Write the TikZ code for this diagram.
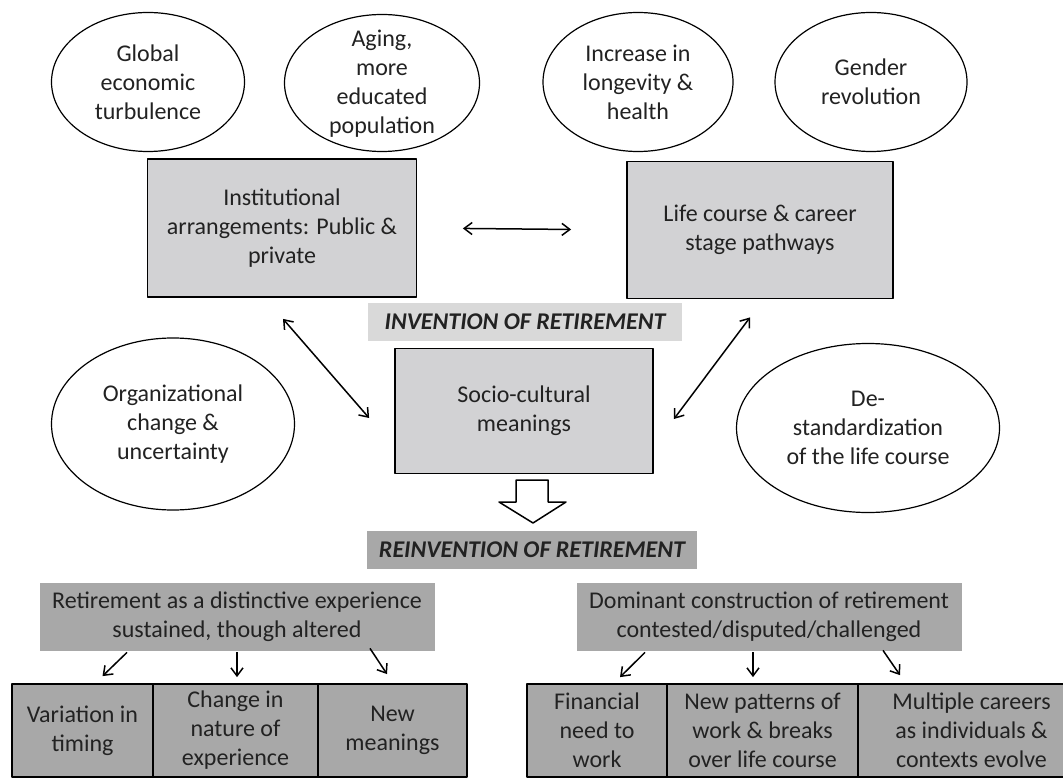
\documentclass[tikz,border=0pt]{standalone}
\usepackage{fontspec}
\setmainfont{Carlito}
\usetikzlibrary{shapes.geometric,arrows.meta,calc}
\definecolor{txtgray}{HTML}{222222}
\definecolor{boxgray}{HTML}{D2D2D4}
\definecolor{lightlab}{HTML}{D9D9D9}
\definecolor{midgray}{HTML}{A8A8A8}
\begin{document}
\begin{tikzpicture}[x=0.5pt, y=-0.5pt, font=\fontsize{12}{14.5}\selectfont, text=txtgray,
	line join=round, >={Straight Barb[length=4pt,width=6pt]},
	oval/.style 2 args={draw, ellipse, line width=0.6pt, align=center, inner sep=0pt,
		minimum width=#1*0.5pt, minimum height=#2*0.5pt},
	topbox/.style 2 args={draw, fill=boxgray, line width=0.9pt, align=center, inner sep=0pt,
		minimum width=#1*0.5pt, minimum height=#2*0.5pt},
	tag/.style 2 args={fill=#1, inner sep=0pt, minimum width=#2*0.5pt, minimum height=19pt,
		font=\fontsize{12}{14.5}\selectfont\bfseries\itshape},
	hdr/.style={fill=midgray, align=center, inner sep=0pt, minimum width=#1*0.5pt, minimum height=34pt},
	cell/.style={draw, fill=midgray, line width=0.9pt, align=center, inner sep=0pt,
		minimum width=#1*0.5pt, minimum height=46.5pt},
	link/.style={<->, line width=0.75pt}]
	\useasboundingbox (0,0) rectangle (1063,780);
	% outside influences
	\node[oval={193}{139}] (global) at (148,82) {Global\\economic\\turbulence};
	\node[oval={195}{137}] (aging) at (382,83) {};
	\node[align=center] at (382,84) {Aging,\\more\\educated\\population};
	\node[oval={190}{139}] (longev) at (638,82) {Increase in\\longevity \&\\health};
	\node[oval={192}{139}] (gender) at (871,82) {Gender\\revolution};
	\node[oval={243}{172}] (org) at (173,424) {Organizational\\change \&\\uncertainty};
	\node[oval={263}{169}] (destd) at (868,428) {De-\\standardization\\of the life course};
	% invention of retirement
	\node[topbox={269}{138}] (inst) at (282,228) {Institutional\\arrangements: Public \&\\private};
	\node[topbox={266}{137}] (life) at (760,230) {Life course \& career\\stage pathways};
	\node[tag={lightlab}{314}] (invent) at (525,322) {INVENTION OF RETIREMENT};
	\node[topbox={258}{125}] (socio) at (524,411) {Socio-cultural\\meanings};
	\draw[link, shorten <=22.75pt, shorten >=27.5pt] (inst.east) -- (life.west);
	\draw[link] ($(inst.south)+(1,21)$) -- ($(socio.west)+(-25,7)$);
	\draw[link] ($(life.south)+(-10,18)$) -- ($(socio.east)+(20,8)$);
	% hollow arrow
	\draw[line width=0.75pt, fill=white] (516,480) -- (548,480) -- (548,502) -- (566,502)
		-- (533,523) -- (499,502) -- (516,502) -- cycle;
	\node[tag={midgray}{330}] (reinvent) at (532,550) {REINVENTION OF RETIREMENT};
	% reinvention of retirement
	\node[hdr=395] (sustain) at (237,617) {Retirement as a distinctive experience\\sustained, though altered};
	\node[hdr=385] (contest) at (769,617) {Dominant construction of retirement\\contested/disputed/challenged};
	\begin{scope}
		\clip (0,0) rectangle (1063,780);
		\node[cell=141] (timing) at (82.5,730.5) {Variation in\\timing};
		\node[cell=165] (nature) at (235.5,730.5) {Change in\\nature of\\experience};
		\node[cell=149] (newmean) at (392.5,730.5) {New\\meanings};
		\node[cell=140] (finance) at (597,730.5) {Financial\\need to\\work};
		\node[cell=191] (pattern) at (762.5,730.5) {New patterns of\\work \& breaks\\over life course};
		\node[cell=227] (multi) at (971.5,730.5) {Multiple careers\\as individuals \&\\contexts evolve};
	\end{scope}
	\draw[->, line width=0.75pt] ($(sustain.south)+(-110,1)$) -- ($(timing.north)+(20,-7)$);
	\draw[->, line width=0.75pt] ($(sustain.south)+(0,1)$) -- ($(nature.north)+(1.5,-6)$);
	\draw[->, line width=0.75pt] ($(sustain.south)+(133,-3)$) -- ($(newmean.north)+(-5.5,-9)$);
	\draw[->, line width=0.75pt] ($(contest.south)+(-124,1)$) -- ($(finance.north)+(23,-6)$);
	\draw[->, line width=0.75pt] ($(contest.south)+(-16,1)$) -- ($(pattern.north)+(-9.5,-6)$);
	\draw[->, line width=0.75pt] ($(contest.south)+(114,-1)$) -- ($(multi.north)+(-71.5,-8)$);
\end{tikzpicture}
\end{document}
